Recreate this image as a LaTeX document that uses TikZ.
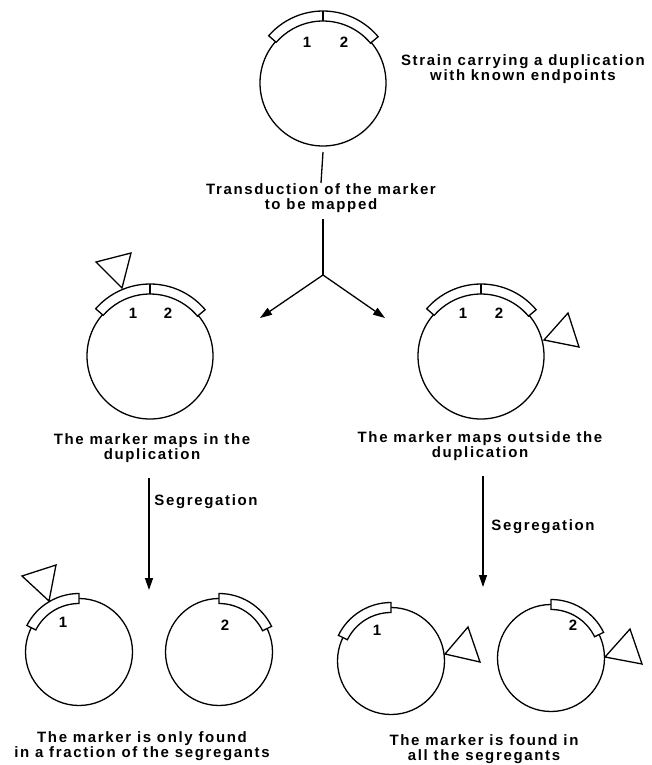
\documentclass[tikz,border=0pt]{standalone}
\usepackage{fontspec}
\newfontfamily\lblfont[LetterSpace=11]{Liberation Sans}
\usetikzlibrary{calc,arrows.meta}
\newcommand\dupbox[5]{%
  \draw[fill=white] ($(#1.center)+(#2:#4pt)$) arc[start angle=#2,end angle=#3,radius=#4pt]
    -- ($(#1.center)+(#3:#5pt)$) arc[start angle=#3,end angle=#2,radius=#5pt] -- cycle;}
\newcommand\divtick[3]{\draw ($(#1.center)+(90:#2pt)$) -- ($(#1.center)+(90:#3pt)$);}
\newcommand\marker[7]{\draw[line join=miter] ($(#1.center)+(#2,#3)$) -- ($(#1.center)+(#4,#5)$) -- ($(#1.center)+(#6,#7)$) -- cycle;}
\tikzset{
  ln/.style={line width=1.3pt},
  bigc/.style={circle,draw,line width=1.3pt,minimum size=126pt,inner sep=0pt},
  smallc/.style={circle,draw,line width=1.3pt,minimum size=107pt,inner sep=0pt},
  txt/.style={font=\lblfont\bfseries\fontsize{15}{15}\selectfont,align=center,inner sep=0pt,anchor=north},
  num/.style={font=\lblfont\bfseries\fontsize{15}{15}\selectfont,inner sep=0pt},
  arr/.style={line width=1.3pt,-{Triangle[length=12pt,width=8pt]}}
}
\begin{document}
\begin{tikzpicture}[x=1pt,y=1pt,line width=1.3pt]
\useasboundingbox (0,0) rectangle (651,-765);
% circles
\node[bigc] (c0) at (323,-83) {};
\node[bigc] (c1) at (150,-356) {};
\node[bigc] (c2) at (481,-356) {};
\node[smallc] (c3) at (79,-652) {};
\node[smallc] (c4) at (219,-652) {};
\node[smallc] (c5) at (391,-661) {};
\node[smallc] (c6) at (551,-658) {};
% duplication boxes
\dupbox{c0}{40}{139}{62}{72}\divtick{c0}{62}{72}
\dupbox{c1}{40}{139}{62}{72}\divtick{c1}{62}{72}
\dupbox{c2}{40}{139}{62}{72}\divtick{c2}{62}{72}
\dupbox{c3}{90}{153}{48.5}{58.5}
\dupbox{c4}{26}{90}{48.5}{58.5}
\dupbox{c5}{90}{154}{48.5}{58.5}
\dupbox{c6}{26}{90}{48.5}{58.5}
% markers
\marker{c1}{-28}{68}{-54}{94}{-19}{103}
\marker{c2}{63}{16}{87}{43}{98}{9}
\marker{c3}{-30}{51}{-57}{76}{-23}{87}
\marker{c5}{54}{7}{77}{34}{89}{-1}
\marker{c6}{54}{1}{79}{29}{91}{-6}
% numbers
\node[num] (n01) at ($(c0.center)+(-16,41)$) {1};
\node[num] (n02) at ($(c0.center)+(21,41)$) {2};
\node[num] (n11) at ($(c1.center)+(-17,43)$) {1};
\node[num] (n12) at ($(c1.center)+(18,43)$) {2};
\node[num] (n21) at ($(c2.center)+(-18,43)$) {1};
\node[num] (n22) at ($(c2.center)+(18,43)$) {2};
\node[num] (n31) at ($(c3.center)+(-16,30)$) {1};
\node[num] (n42) at ($(c4.center)+(6,27)$) {2};
\node[num] (n51) at ($(c5.center)+(-14,31)$) {1};
\node[num] (n62) at ($(c6.center)+(22,33)$) {2};
% texts
\node[txt] (t0) at (523,-54) {Strain carrying a duplication\\with known endpoints};
\node[txt] (t1) at (321,-183) {Transduction of the marker\\to be mapped};
\node[txt] (t2) at (152,-433) {The marker maps in the\\duplication};
\node[txt] (t3) at (480,-431) {The marker maps outside the\\duplication};
\node[txt] (t4) at (142,-731) {The marker is only found\\in a fraction of the segregants};
\node[txt] (t5) at (484,-734) {The marker is found in\\all the segregants};
\node[txt] (s1) at (206,-494) {Segregation};
\node[txt] (s2) at (543,-519) {Segregation};
% connectors
\coordinate (v0) at (323,-152);
\draw[ln] (v0) -- (t1.north);
\coordinate (v1) at (323,-219);
\coordinate (fork) at (323,-275);
\draw[ln] (v1) -- (fork);
\coordinate (a1) at (260,-318);
\coordinate (a2) at (385,-318);
\draw[arr] (fork) -- (a1);
\draw[arr] (fork) -- (a2);
\coordinate (l1) at (149,-478);
\coordinate (l2) at (149,-590);
\draw[arr] (l1) -- (l2);
\coordinate (r1) at (483,-476);
\coordinate (r2) at (483,-587);
\draw[arr] (r1) -- (r2);
\end{tikzpicture}
\end{document}
